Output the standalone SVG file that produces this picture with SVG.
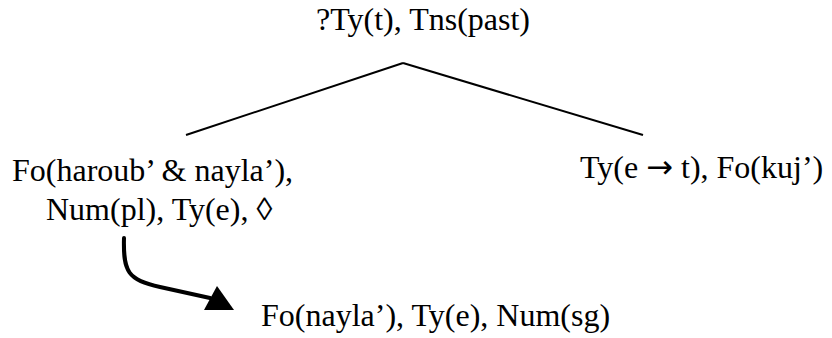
<svg xmlns="http://www.w3.org/2000/svg" width="832" height="338" viewBox="0 0 832 338">
  <style>
    .lbl { font-family: "Liberation Serif", "Times New Roman", serif; font-size: 32px; fill: #000; }
    .sym { font-family: "DejaVu Sans", sans-serif; font-size: 32px; }
    .edge { stroke: #000; stroke-width: 2; fill: none; }
    .link { stroke: #000; stroke-width: 4; fill: none; stroke-linecap: round; }
  </style>
  <rect width="832" height="338" fill="#fff"/>

  <!-- tree branches and the link arrow -->
  <g id="connectors">
    <line class="edge" x1="186" y1="135" x2="403" y2="63"/>
    <line class="edge" x1="403" y1="63" x2="643" y2="135"/>
    <path class="link" d="M124,238 C123,272 128,280 160,287 L210,298"/>
    <polygon points="204,310 234,310 217,286" fill="#000"/>
  </g>

  <g id="root">
    <text class="lbl" x="316" y="30">?Ty(t), Tns(past)</text>
  </g>

  <g id="left">
    <text class="lbl" x="12" y="181">Fo(haroub’ &amp; nayla’),</text>
    <text class="lbl" x="46" y="220">Num(pl), Ty(e), ◊</text>
  </g>

  <g id="right">
    <text class="lbl" x="580" y="178">Ty(e <tspan class="sym">→</tspan> t), Fo(kuj’)</text>
  </g>

  <g id="linked">
    <text class="lbl" x="261" y="326">Fo(nayla’), Ty(e), Num(sg)</text>
  </g>
</svg>
